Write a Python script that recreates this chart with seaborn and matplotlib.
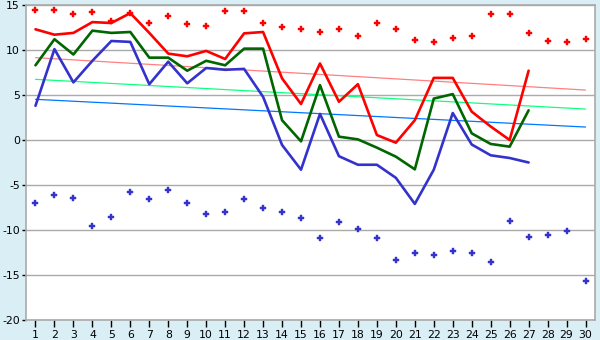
import numpy as np
import pandas as pd
import matplotlib
matplotlib.use("Agg")
import matplotlib.pyplot as plt
import seaborn as sns

# Daily temperatures for the month (days 1-27 observed)
days = list(range(1, 31))
obs_days = list(range(1, 28))

temp_max = [12.3, 11.7, 11.9, 13.1, 13.0, 14.1, 11.9, 9.6, 9.3, 9.9,
            9.0, 11.85, 12.0, 6.85, 4.0, 8.5, 4.25, 6.2, 0.55, -0.3,
            2.2, 6.9, 6.9, 3.15, 1.5, 0.0, 7.7]
temp_mean = [8.3, 11.2, 9.5, 12.15, 11.9, 12.0, 9.15, 9.15, 7.7, 8.8,
             8.3, 10.15, 10.15, 2.2, -0.15, 6.1, 0.37, 0.07, -0.85, -1.85,
             -3.26, 4.6, 5.1, 0.74, -0.44, -0.74, 3.3]
temp_min = [3.8, 10.1, 6.4, 8.8, 11.0, 10.9, 6.2, 8.7, 6.3, 8.0,
            7.8, 7.9, 4.8, -0.55, -3.3, 2.9, -1.8, -2.75, -2.75, -4.2,
            -7.1, -3.3, 3.0, -0.5, -1.7, -2.0, -2.5]

# Record highs and lows for each calendar day
record_high = [14.4, 14.5, 14.0, 14.2, 13.2, 14.1, 13.0, 13.8, 12.9, 12.7,
               14.3, 14.3, 13.0, 12.6, 12.3, 12.0, 12.3, 11.6, 13.0, 12.3,
               11.1, 10.9, 11.3, 11.6, 14.0, 14.0, 11.9, 11.0, 10.9, 11.2]
record_low = [-7.0, -6.15, -6.4, -9.5, -8.5, -5.8, -6.6, -5.6, -7.0, -8.26,
              -8.0, -6.6, -7.5, -8.0, -8.7, -10.9, -9.15, -9.9, -10.9, -13.3,
              -12.5, -12.8, -12.3, -12.6, -13.6, -9.0, -10.8, -10.6, -10.1, -15.7]

# Climate normals at the first and last day of the month
normal_days = [1, 30]
normal_max = [9.15, 5.55]
normal_mean = [6.74, 3.44]
normal_min = [4.52, 1.44]

y_ticks = [-20, -15, -10, -5, 0, 5, 10, 15]

bg = "#d9eef5"
sns.set_theme(style="white")
plt.rcParams["font.family"] = ["DejaVu Sans"]
plt.rcParams["axes.unicode_minus"] = False

fig = plt.figure(figsize=(6.0, 3.4), dpi=100, facecolor=bg)
ax = fig.add_axes([26 / 600, 20 / 340, 569 / 600, 315 / 340])
ax.set_facecolor("white")

for y in y_ticks:
    ax.axhline(y, color="#aaaaaa", lw=1.0, zorder=0)

normals = pd.DataFrame({"day": normal_days, "max": normal_max,
                        "mean": normal_mean, "min": normal_min})
sns.lineplot(data=normals, x="day", y="max", color="#ff8080", lw=0.9, ax=ax)
sns.lineplot(data=normals, x="day", y="mean", color="#11ff80", lw=0.9, ax=ax)
sns.lineplot(data=normals, x="day", y="min", color="#0077ff", lw=0.9, ax=ax)

obs = pd.DataFrame({"day": obs_days, "max": temp_max,
                    "mean": temp_mean, "min": temp_min})
sns.lineplot(data=obs, x="day", y="min", color="#3333cc", lw=1.9, ax=ax)
sns.lineplot(data=obs, x="day", y="mean", color="#006600", lw=1.9, ax=ax)
sns.lineplot(data=obs, x="day", y="max", color="#ff0000", lw=1.9, ax=ax)

# Record markers: small filled crosses
records = pd.DataFrame({"day": days, "high": record_high, "low": record_low})
sns.scatterplot(data=records, x="day", y="high", marker="P", s=22,
                color="#ff0000", edgecolor="#ff0000", linewidth=0.3,
                ax=ax, zorder=5)
sns.scatterplot(data=records, x="day", y="low", marker="P", s=22,
                color="#3333cc", edgecolor="#3333cc", linewidth=0.3,
                ax=ax, zorder=5)

ax.set_xlim(0.5, 30.5)
ax.set_ylim(-20, 15)
ax.set_xticks(days)
ax.set_yticks(y_ticks)
ax.set_xlabel("")
ax.set_ylabel("")
ax.tick_params(axis="both", which="both", direction="out", width=1,
               color="black", labelsize=7.8, labelcolor="black", pad=2,
               bottom=True, left=True)
ax.tick_params(axis="x", length=5)
ax.tick_params(axis="y", length=3, pad=1.5)
for side in ["left", "right", "top", "bottom"]:
    ax.spines[side].set_visible(True)
    ax.spines[side].set_color("#aaaaaa")
    ax.spines[side].set_linewidth(1.2)

fig.savefig("out.png", dpi=100, facecolor=bg)
